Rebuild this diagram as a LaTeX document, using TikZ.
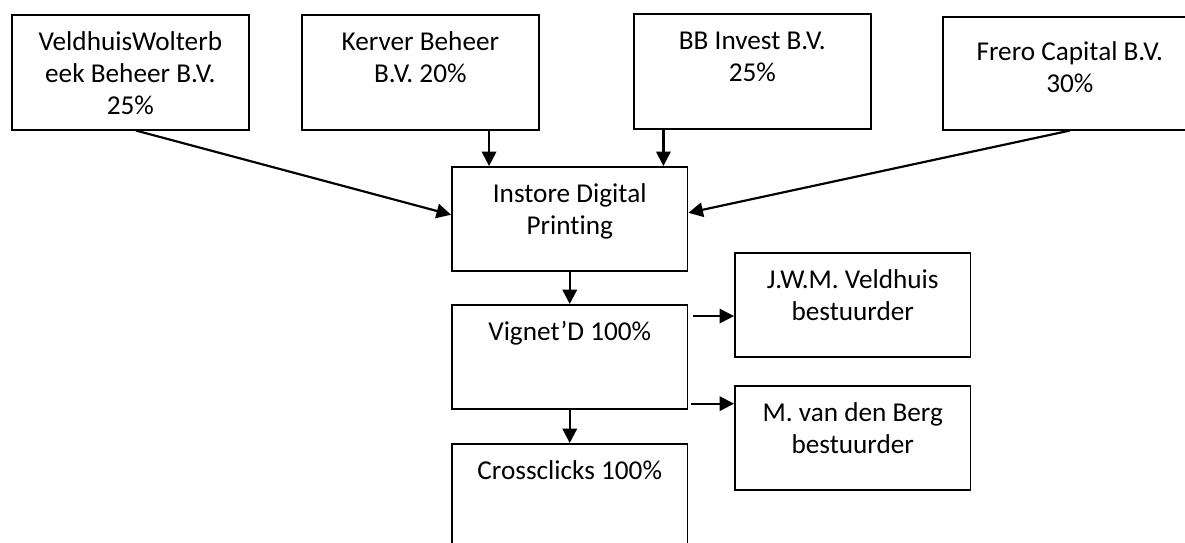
\documentclass[tikz,border=0pt]{standalone}
\usepackage{fontspec}
\setmainfont{Carlito}[Ligatures=NoCommon]
\usetikzlibrary{arrows.meta}
\tikzset{
firm/.style={
	  draw, line width=0.65pt, rectangle, anchor=north west, inner sep=0pt,
	    text width=98.4pt, align=flush center, font=\fontsize{11.3}{13.3}\selectfont,
    text height=14.9pt, text depth=32.8pt},
unit/.style={firm, text width=97.9pt, text depth=28.3pt},
own/.style={-{Triangle[length=6pt, width=6pt]}, line width=0.9pt}
}

\begin{document}
\begin{tikzpicture}[x=0.415pt, y=-0.415pt]
	\useasboundingbox (0,0) rectangle (1185,542);
	\node[firm] (veldhuis) at (11,14) {VeldhuisWolterb\\eek Beheer B.V.\\25\%};
	\node[firm] (kerver) at (301,14) {Kerver Beheer\\B.V. 20\%};
	\node[firm] (bb) at (633,13) {BB Invest B.V.\\25\%};
	\node[firm, text width=105.4pt, text height=18.3pt, text depth=28.6pt] (frero) at (942,16) {Frero Capital B.V.\\30\%};
	\node[unit] (instore) at (451,166) {Instore Digital\\Printing};
	\node[unit] (vignet) at (451,304) {Vignet’D 100\%};
	\node[unit] (cross) at (451,443) {Crossclicks 100\%};
	\node[unit] (jwm) at (734,252) {J.W.M. Veldhuis\\bestuurder};
	\node[unit] (berg) at (734,385) {M. van den Berg\\bestuurder};
	\coordinate (kin) at ([xshift=15.8pt]instore.north west);
	\coordinate (bin) at ([xshift=-10.4pt]instore.north east);
	\draw[own] ([xshift=2.3pt]veldhuis.south) -- ([yshift=1.7pt]instore.west);
	\draw[own] (kerver.south -| kin) -- (kin);
	\draw[own] (bb.south -| bin) -- (bin);
	\draw[own] (frero.south) -- ([yshift=2.5pt]instore.east);
	\draw[own] (instore.south) -- (vignet.north);
	\coordinate (vj) at ([xshift=2pt, yshift=-5pt]vignet.north east);
	\draw[own] (vj) -- (vj -| jwm.west);
	\coordinate (vb) at ([xshift=1.2pt, yshift=2.5pt]vignet.south east);
	\draw[own] (vb) -- (vb -| berg.west);
	\draw[own] (vignet.south) -- (cross.north);
\end{tikzpicture}
\end{document}
